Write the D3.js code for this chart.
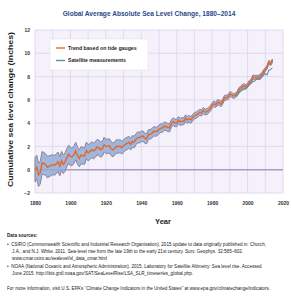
<!DOCTYPE html>
<html>
<head>
<meta charset="utf-8">
<script src="https://cdn.jsdelivr.net/npm/d3@7"></script>
<style>
  body { margin: 0; background: #fff; }
  text { font-family: "Liberation Sans", Arial, sans-serif; }
</style>
</head>
<body>
<script>
const startYear = 1880;
// CSIRO tide gauge trend, inches, 1880-2014
const tideGauge = [
  0.00, 0.22, -0.44, -0.23, 0.59, 0.53, 0.44, 0.22, 0.30, 0.36,
  0.44, 0.37, 0.50, 0.69, 0.30, 0.77, 0.47, 0.67, 1.04, 1.34,
  1.13, 1.11, 1.29, 1.61, 1.20, 0.98, 1.25, 1.20, 1.17, 1.66,
  1.45, 1.56, 1.72, 1.62, 1.72, 1.94, 1.89, 1.72, 1.80, 2.16,
  2.01, 2.00, 2.06, 1.80, 1.70, 1.82, 2.02, 1.97, 2.03, 1.89,
  2.05, 2.18, 2.26, 2.36, 2.19, 2.44, 2.37, 2.62, 2.77, 2.76,
  2.85, 2.88, 2.70, 2.65, 3.01, 3.04, 3.12, 3.31, 3.26, 3.30,
  3.46, 3.57, 3.58, 3.74, 3.71, 3.62, 3.60, 3.98, 4.13, 4.02,
  4.01, 4.25, 4.11, 4.16, 4.17, 4.42, 4.29, 4.37, 4.28, 4.48,
  4.64, 4.69, 4.79, 4.93, 4.88, 5.08, 4.96, 4.98, 5.11, 5.27,
  5.51, 5.67, 5.57, 5.77, 5.77, 5.63, 5.87, 6.16, 6.20, 6.23,
  6.49, 6.44, 6.32, 6.39, 6.49, 6.82, 6.99, 7.12, 7.20, 7.10,
  7.26, 7.49, 7.58, 7.96, 7.92, 7.94, 7.93, 8.02, 8.15, 8.40,
  8.60, 8.80, 9.24, 9.09, 9.35
];
// half width of the uncertainty band, inches
const tideError = [
  1.05, 1.02, 1.00, 0.98, 0.97, 0.95, 0.93, 0.92, 0.90, 0.88,
  0.86, 0.85, 0.84, 0.83, 0.82, 0.81, 0.80, 0.79, 0.78, 0.78,
  0.77, 0.76, 0.75, 0.75, 0.74, 0.73, 0.73, 0.72, 0.71, 0.71,
  0.70, 0.69, 0.69, 0.68, 0.67, 0.66, 0.66, 0.65, 0.64, 0.63,
  0.62, 0.62, 0.61, 0.60, 0.59, 0.58, 0.57, 0.57, 0.56, 0.55,
  0.54, 0.53, 0.52, 0.51, 0.50, 0.50, 0.49, 0.48, 0.47, 0.46,
  0.45, 0.44, 0.44, 0.43, 0.42, 0.41, 0.40, 0.40, 0.39, 0.38,
  0.37, 0.37, 0.36, 0.35, 0.35, 0.34, 0.34, 0.33, 0.33, 0.32,
  0.32, 0.31, 0.31, 0.30, 0.30, 0.29, 0.29, 0.29, 0.28, 0.28,
  0.27, 0.27, 0.27, 0.26, 0.26, 0.26, 0.25, 0.25, 0.25, 0.24,
  0.24, 0.24, 0.23, 0.23, 0.23, 0.22, 0.22, 0.22, 0.21, 0.21,
  0.21, 0.21, 0.20, 0.20, 0.20, 0.20, 0.19, 0.19, 0.19, 0.19,
  0.18, 0.18, 0.18, 0.18, 0.18, 0.17, 0.17, 0.17, 0.17, 0.17,
  0.16, 0.16, 0.16, 0.16, 0.16
];
const satStart = 1993;
// NOAA satellite altimetry, inches, 1993-2014
const satellite = [
  6.39, 6.41, 6.55, 6.73, 6.83, 6.93, 6.94, 7.11, 7.28, 7.47,
  7.55, 7.61, 7.76, 7.82, 7.77, 7.96, 8.10, 8.26, 8.14, 8.53,
  8.62, 8.73
];
const yTicks = [-2, 0, 2, 4, 6, 8, 10, 12];
const xTicks = [1880, 1900, 1920, 1940, 1960, 1980, 2000, 2020];
const legendLabels = ["Trend based on tide gauges", "Satellite measurements"];
const notes = [
  { bold: true, t: "Data sources:" },
  { t: "\u2022  CSIRO (Commonwealth Scientific and Industrial Research Organisation). 2015 update to data originally published in: Church," },
  { t: "    J.A., and N.J. White. 2011. Sea-level rise from the late 19th to the early 21st century. Surv. Geophys. 32:585\u2013602." },
  { t: "    www.cmar.csiro.au/sealevel/sl_data_cmar.html" },
  { t: "\u2022  NOAA (National Oceanic and Atmospheric Administration). 2015. Laboratory for Satellite Altimetry: Sea level rise. Accessed" },
  { t: "    June 2015. http://ibis.grdl.noaa.gov/SAT/SeaLevelRise/LSA_SLR_timeseries_global.php." },
  { t: "For more information, visit U.S. EPA\u2019s \u201cClimate Change Indicators in the United States\u201d at www.epa.gov/climatechange/indicators." }
];

const tide = tideGauge.map((v, i) => ({ year: startYear + i, v: v, e: tideError[i] }));
const sat = satellite.map((v, i) => ({ year: satStart + i, v: v }));

const W = 291, H = 296;
const plotL = 35, plotR = 283, plotT = 30, plotB = 193;

const svg = d3.select("body").append("svg")
  .attr("width", W).attr("height", H);

const x = d3.scaleLinear().domain([1880, 2020]).range([plotL, plotR]);
const y = d3.scaleLinear().domain([-2, 12]).range([plotB, plotT]);

// title
svg.append("text")
  .attr("x", 149).attr("y", 16)
  .attr("text-anchor", "middle")
  .attr("font-size", 6.6).attr("font-weight", "bold")
  .attr("fill", "#2c4a87")
  .text("Global Average Absolute Sea Level Change, 1880\u20132014");

// plot background
svg.append("rect")
  .attr("x", plotL).attr("y", plotT)
  .attr("width", plotR - plotL).attr("height", plotB - plotT)
  .attr("fill", "#f4f1fb");

// grid
svg.append("g").selectAll("line")
  .data(d3.range(1880, 2021, 10))
  .join("line")
  .attr("x1", d => x(d)).attr("x2", d => x(d))
  .attr("y1", plotT).attr("y2", plotB)
  .attr("stroke", "#ddd3ec").attr("stroke-width", 0.8);

svg.append("g").selectAll("line")
  .data(yTicks)
  .join("line")
  .attr("x1", plotL).attr("x2", plotR)
  .attr("y1", d => y(d)).attr("y2", d => y(d))
  .attr("stroke", d => d === 0 ? "#a99cc0" : "#ddd3ec")
  .attr("stroke-width", d => d === 0 ? 1.4 : 0.8);

// uncertainty band
const band = d3.area()
  .x(d => x(d.year))
  .y0(d => y(d.v - d.e))
  .y1(d => y(d.v + d.e));

svg.append("path")
  .datum(tide)
  .attr("d", band)
  .attr("fill", "#92acd6")
  .attr("fill-opacity", 0.85)
  .attr("stroke", "#8e8198")
  .attr("stroke-width", 1.0);

// lines
const line = d3.line().x(d => x(d.year)).y(d => y(d.v));

svg.append("path")
  .datum(tide)
  .attr("d", line)
  .attr("fill", "none")
  .attr("stroke", "#e2692f")
  .attr("stroke-width", 1.5);

svg.append("path")
  .datum(sat)
  .attr("d", line)
  .attr("fill", "none")
  .attr("stroke", "#5b8ea8")
  .attr("stroke-width", 1.1);

// axes
const yAxis = svg.append("g")
  .attr("transform", `translate(${plotL - 3},0)`)
  .call(d3.axisLeft(y).tickValues(yTicks).tickSize(0).tickPadding(2));
yAxis.select(".domain").remove();
yAxis.selectAll("text")
  .attr("font-size", 5).attr("font-weight", "bold").attr("fill", "#333");

const xAxis = svg.append("g")
  .attr("transform", `translate(0,${plotB + 6})`)
  .call(d3.axisBottom(x).tickValues(xTicks).tickFormat(d3.format("d")).tickSize(0).tickPadding(2));
xAxis.select(".domain").remove();
xAxis.selectAll("text")
  .attr("font-size", 5).attr("font-weight", "bold").attr("fill", "#333");

svg.append("text")
  .attr("x", 163).attr("y", 224)
  .attr("text-anchor", "middle")
  .attr("font-size", 7.5).attr("font-weight", "bold").attr("fill", "#222")
  .text("Year");

svg.append("text")
  .attr("transform", `translate(13,${(plotT + plotB) / 2 - 2}) rotate(-90)`)
  .attr("text-anchor", "middle")
  .attr("font-size", 8).attr("font-weight", "bold").attr("fill", "#222")
  .attr("textLength", 155).attr("lengthAdjust", "spacingAndGlyphs")
  .text("Cumulative sea level change (inches)");

// legend
const lg = svg.append("g");
lg.append("rect")
  .attr("x", 50).attr("y", 39).attr("width", 98).attr("height", 31)
  .attr("fill", "#fff").attr("stroke", "#e4e0ea").attr("stroke-width", 0.6);
const legendColors = ["#e2692f", "#5b8ea8"];
legendLabels.forEach((t, i) => {
  const ly = 48 + i * 12.5;
  lg.append("line")
    .attr("x1", 56).attr("x2", 65).attr("y1", ly).attr("y2", ly)
    .attr("stroke", legendColors[i]).attr("stroke-width", 1.4);
  lg.append("text")
    .attr("x", 68).attr("y", ly + 1.8)
    .attr("font-size", 5.2).attr("font-weight", "bold").attr("fill", "#222")
    .text(t);
});

// notes
const noteY = [237, 246, 253, 260, 268, 275, 290];
svg.append("g").selectAll("text")
  .data(notes)
  .join("text")
  .attr("x", 7)
  .attr("y", (d, i) => noteY[i])
  .attr("font-size", 4.6)
  .attr("font-weight", d => d.bold ? "bold" : "normal")
  .attr("fill", "#222")
  .style("white-space", "pre")
  .text(d => d.t);
</script>
</body>
</html>
